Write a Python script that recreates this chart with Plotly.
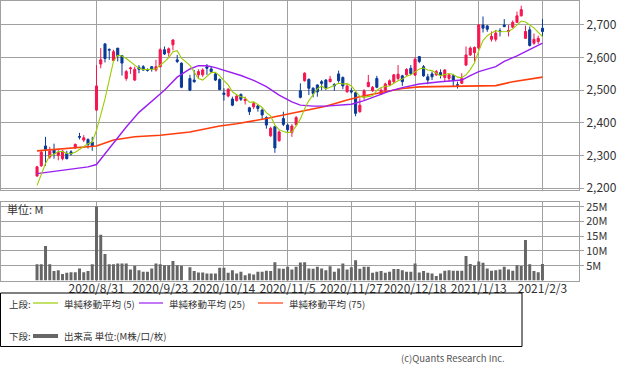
import plotly.graph_objects as go
import pandas as pd

FONT = "Noto Sans CJK JP"
W, H = 633, 372

# ---- trading calendar (TSE), 2020/10/1 had no trading (system outage) ----
holidays = ["2020-09-21", "2020-09-22", "2020-11-03", "2020-11-23",
            "2020-12-31", "2021-01-01", "2021-01-11"]
days = pd.bdate_range("2020-08-11", "2021-02-03", freq="C", holidays=holidays)
dates = [f"{d.year}/{d.month}/{d.day}" for d in days]

tick_labels = ["2020/8/31", "2020/9/23", "2020/10/14", "2020/11/5",
               "2020/11/27", "2020/12/18", "2021/1/13", "2021/2/3"]
price_ticks = [2200, 2300, 2400, 2500, 2600, 2700]
vol_ticks = [5, 10, 15, 20, 25]

opens = [2237, 2268, 2329, 2295, 2317, 2300, 2290, 2306, 2311, 2323,
         2358, 2347, 2349, 2341, 2439, 2580, 2642, 2625, 2591, 2629,
         2606, 2536, 2566, 2531, 2570, 2572, 2563, 2572, 2562, 2572,
         2624, 2615, 2639, 2593, 2583, None, 2536, 2531, 2547, 2547,
         2572, 2565, 2550, 2533, 2491, 2482, 2473, 2468, 2487, 2468,
         2446, 2449, 2452, 2439, 2416, 2360, 2388, 2345, 2413, 2393,
         2370, 2395, 2498, 2529, 2533, 2506, 2516, 2526, 2531, 2526,
         2518, 2550, 2539, 2495, 2498, 2492, 2434, 2482, 2511, 2498,
         2536, 2488, 2500, 2516, 2526, 2536, 2544, 2547, 2567, 2546,
         2603, 2572, 2541, 2550, 2547, 2554, 2539, 2536, 2544, 2517,
         2521, 2577, 2608, 2615, 2629, 2700, 2697, 2656, 2656, 2682,
         2700, 2680, 2693, 2708, 2728, 2659, 2685, 2644, 2649, 2690]
highs = [2268, 2314, 2357, 2326, 2336, 2316, 2316, 2314, 2316, 2336,
         2369, 2362, 2352, 2357, 2577, 2629, 2642, 2628, 2624, 2629,
         2608, 2562, 2572, 2572, 2577, 2577, 2567, 2574, 2593, 2629,
         2634, 2631, 2656, 2608, 2585, None, 2547, 2562, 2564, 2567,
         2580, 2572, 2554, 2536, 2506, 2506, 2480, 2487, 2490, 2480,
         2449, 2465, 2454, 2444, 2420, 2388, 2390, 2377, 2434, 2398,
         2396, 2421, 2521, 2555, 2536, 2509, 2518, 2531, 2534, 2544,
         2521, 2560, 2542, 2518, 2506, 2495, 2475, 2503, 2547, 2513,
         2544, 2506, 2523, 2533, 2550, 2577, 2547, 2567, 2577, 2601,
         2605, 2577, 2550, 2557, 2562, 2564, 2564, 2550, 2550, 2526,
         2552, 2634, 2634, 2634, 2703, 2726, 2700, 2680, 2685, 2690,
         2718, 2700, 2714, 2741, 2759, 2698, 2695, 2674, 2667, 2718]
lows = [2234, 2265, 2268, 2290, 2290, 2285, 2285, 2288, 2300, 2321,
        2349, 2341, 2321, 2314, 2436, 2567, 2585, 2593, 2588, 2588,
        2545, 2529, 2550, 2528, 2552, 2559, 2557, 2557, 2557, 2570,
        2608, 2603, 2622, 2583, 2506, None, 2497, 2523, 2536, 2541,
        2547, 2552, 2528, 2500, 2468, 2478, 2451, 2465, 2467, 2456,
        2424, 2442, 2434, 2410, 2382, 2357, 2308, 2342, 2390, 2372,
        2357, 2390, 2475, 2526, 2485, 2478, 2480, 2500, 2500, 2524,
        2498, 2523, 2503, 2492, 2490, 2420, 2431, 2470, 2509, 2495,
        2506, 2485, 2495, 2513, 2521, 2531, 2513, 2544, 2546, 2544,
        2583, 2541, 2518, 2531, 2544, 2536, 2526, 2526, 2510, 2505,
        2519, 2574, 2605, 2587, 2626, 2677, 2679, 2649, 2649, 2665,
        2693, 2665, 2690, 2706, 2726, 2657, 2634, 2639, 2642, 2665]
closes = [2265, 2310, 2319, 2313, 2307, 2309, 2313, 2290, 2304, 2334,
          2356, 2354, 2333, 2329, 2513, 2593, 2597, 2623, 2618, 2606,
          2583, 2557, 2568, 2564, 2564, 2562, 2561, 2565, 2572, 2624,
          2611, 2627, 2654, 2588, 2509, None, 2500, 2526, 2557, 2562,
          2567, 2557, 2531, 2502, 2487, 2503, 2454, 2482, 2472, 2472,
          2434, 2459, 2444, 2424, 2393, 2383, 2323, 2372, 2395, 2379,
          2390, 2416, 2478, 2552, 2506, 2490, 2495, 2521, 2506, 2534,
          2513, 2529, 2513, 2513, 2495, 2429, 2454, 2498, 2524, 2509,
          2509, 2500, 2519, 2529, 2547, 2549, 2526, 2564, 2551, 2595,
          2588, 2544, 2531, 2541, 2557, 2547, 2562, 2547, 2529, 2515,
          2536, 2608, 2629, 2631, 2700, 2690, 2687, 2665, 2675, 2680,
          2695, 2683, 2708, 2728, 2747, 2680, 2637, 2656, 2659, 2680]
volume_m = [5.5, 5.5, 11.7, 5.5, 3.2, 3.5, 2.2, 2.6, 2.8, 2.8,
            4.1, 2.8, 3.2, 5.5, 25.1, 15.5, 9.0, 5.5, 5.5, 5.8,
            5.8, 5.8, 3.7, 5.0, 3.5, 3.0, 3.0, 4.1, 5.8, 5.5,
            5.2, 5.2, 6.6, 5.2, 5.0, None, 4.5, 3.2, 2.7, 2.7,
            2.4, 2.4, 2.4, 4.3, 4.3, 2.6, 3.5, 2.4, 3.0, 1.8,
            2.4, 2.0, 3.0, 3.0, 3.3, 3.2, 6.2, 4.1, 4.0, 4.7,
            3.7, 4.7, 6.1, 6.2, 4.1, 4.0, 4.7, 4.1, 3.5, 4.8,
            3.0, 4.1, 5.8, 3.7, 4.5, 6.9, 4.0, 4.7, 4.7, 2.6,
            3.0, 3.2, 2.6, 3.0, 3.9, 3.9, 3.5, 3.0, 3.0, 5.8,
            2.7, 3.2, 2.6, 2.4, 1.5, 2.4, 3.3, 3.5, 3.3, 3.3,
            3.3, 8.3, 5.6, 5.1, 6.4, 6.0, 4.1, 3.3, 3.5, 3.7,
            4.7, 3.7, 3.3, 5.2, 4.9, 13.7, 5.5, 3.2, 2.8, 5.6]
ma5 = [2208, 2239, 2275, 2300, 2303, 2312, 2312, 2306, 2305, 2310,
       2319, 2328, 2336, 2341, 2377, 2424, 2473, 2531, 2589, 2607,
       2605, 2597, 2586, 2576, 2567, 2563, 2564, 2563, 2565, 2577,
       2587, 2600, 2618, 2621, 2598, None, 2576, 2555, 2536, 2531,
       2542, 2554, 2555, 2544, 2529, 2516, 2495, 2486, 2480, 2477,
       2463, 2464, 2456, 2447, 2431, 2421, 2393, 2379, 2373, 2370,
       2372, 2390, 2412, 2443, 2468, 2488, 2504, 2513, 2504, 2509,
       2514, 2521, 2519, 2520, 2513, 2496, 2481, 2478, 2480, 2483,
       2499, 2508, 2512, 2513, 2521, 2529, 2534, 2543, 2547, 2557,
       2565, 2568, 2562, 2560, 2552, 2544, 2548, 2551, 2548, 2540,
       2538, 2547, 2563, 2584, 2621, 2652, 2667, 2675, 2683, 2679,
       2680, 2680, 2688, 2699, 2712, 2709, 2700, 2691, 2677, 2664]

ma25_dates = ["2020/8/11", "2020/8/20", "2020/8/27", "2020/8/31", "2020/9/2",
              "2020/9/4", "2020/9/9", "2020/9/14", "2020/9/17", "2020/9/24",
              "2020/9/29", "2020/10/2", "2020/10/6", "2020/10/8", "2020/10/12",
              "2020/10/15", "2020/10/20", "2020/10/23", "2020/10/28", "2020/11/2",
              "2020/11/6", "2020/11/10", "2020/11/13", "2020/11/18", "2020/11/24",
              "2020/11/27", "2020/12/2", "2020/12/7", "2020/12/10", "2020/12/15",
              "2020/12/21", "2020/12/28", "2021/1/6", "2021/1/8", "2021/1/13",
              "2021/1/19", "2021/1/21", "2021/1/26", "2021/1/29", "2021/2/3"]
ma25 = [2244, 2255, 2265, 2272, 2305, 2340, 2387, 2432, 2465, 2500,
        2540, 2565, 2575, 2575, 2569, 2558, 2545, 2530, 2511, 2485,
        2464, 2454, 2451, 2451, 2454, 2457, 2468, 2483, 2497, 2508,
        2519, 2526, 2531, 2545, 2557, 2572, 2588, 2605, 2625, 2644]

ma75_dates = ["2020/8/11", "2020/8/31", "2020/9/4", "2020/9/11", "2020/9/23",
              "2020/10/2", "2020/10/13", "2020/10/19", "2020/10/28", "2020/11/5",
              "2020/11/10", "2020/11/18", "2020/11/26", "2020/12/1", "2020/12/9",
              "2020/12/15", "2020/12/21", "2021/1/4", "2021/1/14", "2021/1/19",
              "2021/1/25", "2021/1/28", "2021/2/3"]
ma75 = [2314, 2329, 2347, 2357, 2362, 2372, 2390, 2397, 2413, 2427,
        2434, 2451, 2470, 2480, 2495, 2505, 2510, 2511, 2513, 2514,
        2526, 2533, 2540]

# traded days only for candles / bars
cd = [(d, o, h, l, c, v) for d, o, h, l, c, v in
      zip(dates, opens, highs, lows, closes, volume_m) if o is not None]
c_dates = [r[0] for r in cd]

RED = "#F5154F"
BLUE = "#0A3A96"
GRID = "#a0a0a0"
TXT = "#333333"
C5, C25, C75 = "#9ACD00", "#9B1FF2", "#FF3D0D"

fig = go.Figure()
fig.add_trace(go.Candlestick(
    x=c_dates, open=[r[1] for r in cd], high=[r[2] for r in cd],
    low=[r[3] for r in cd], close=[r[4] for r in cd],
    increasing=dict(line=dict(color=RED, width=1), fillcolor=RED),
    decreasing=dict(line=dict(color=BLUE, width=1), fillcolor=BLUE),
    whiskerwidth=0, xaxis="x", yaxis="y", showlegend=False, hoverinfo="skip"))
fig.add_trace(go.Scatter(x=ma75_dates, y=ma75, mode="lines",
                         line=dict(color=C75, width=1.6),
                         xaxis="x", yaxis="y", showlegend=False))
fig.add_trace(go.Scatter(x=ma25_dates, y=ma25, mode="lines",
                         line=dict(color=C25, width=1.4),
                         xaxis="x", yaxis="y", showlegend=False))
fig.add_trace(go.Scatter(x=dates, y=ma5, mode="lines", connectgaps=True,
                         line=dict(color=C5, width=1.1),
                         xaxis="x", yaxis="y", showlegend=False))
fig.add_trace(go.Bar(x=c_dates, y=[r[5] for r in cd],
                     marker=dict(color="#666666", line_width=0),
                     xaxis="x2", yaxis="y2", showlegend=False))

xr = [-8.6, 127.6]
px = lambda v: v / W
py = lambda v: 1 - v / H

common_x = dict(type="category", categoryorder="array", categoryarray=dates,
                range=xr, showgrid=True, gridcolor=GRID, gridwidth=1,
                tickmode="array", tickvals=tick_labels, showline=True,
                linecolor=GRID, mirror=True, zeroline=False, automargin=False,
                tickangle=0, rangeslider=dict(visible=False), fixedrange=True)
common_y = dict(side="right", ticks="outside", ticklen=4, tickcolor=GRID,
                showgrid=True, gridcolor=GRID, showline=True, linecolor=GRID,
                mirror=True, zeroline=False, automargin=False, fixedrange=True)

fig.update_layout(
    width=W, height=H, margin=dict(l=0, r=0, t=0, b=0, autoexpand=False),
    paper_bgcolor="white", plot_bgcolor="white",
    font=dict(family=FONT, size=12, color=TXT),
    bargap=0.3, showlegend=False, hovermode=False,
    xaxis=dict(domain=[0.0008, px(579)], anchor="y", showticklabels=False,
               ticks="", **common_x),
    yaxis=dict(domain=[py(190.3), py(0.5)], range=[2193, 2775],
               tickvals=price_ticks, ticktext=[f"{v:,}" for v in price_ticks],
               tickfont=dict(size=12, color=TXT), **common_y),
    xaxis2=dict(domain=[0.0008, px(579)], anchor="y2", showticklabels=True,
                ticktext=tick_labels, ticks="", tickfont=dict(size=12, color=TXT),
                ticklabelstandoff=-3, **common_x),
    yaxis2=dict(domain=[py(280.5), py(201.7)], range=[0, 26.7],
                tickvals=vol_ticks, ticktext=[f"{v}M" for v in vol_ticks],
                tickfont=dict(size=11, color=TXT), **common_y),
)

shapes = [dict(type="rect", xref="paper", yref="paper", x0=px(0.5), x1=px(522),
               y0=py(346.5), y1=py(293), line=dict(color="#000000", width=1))]
for x0, x1, yy, col, lw in [(33, 58, 303, C5, 1.2), (139, 163, 303, C25, 1.2),
                            (258, 283, 303, C75, 1.2), (33, 58, 336, "#666666", 4)]:
    shapes.append(dict(type="line", xref="paper", yref="paper", x0=px(x0), x1=px(x1),
                       y0=py(yy), y1=py(yy), line=dict(color=col, width=lw)))
fig.update_layout(shapes=shapes)

annots = [
    ("単位: M", 5, 209, 11, "left", TXT),
    ("上段:", 7, 304, 9.5, "left", TXT),
    ("単純移動平均 (5)", 62, 304, 9.5, "left", TXT),
    ("単純移動平均 (25)", 167, 304, 9.5, "left", TXT),
    ("単純移動平均 (75)", 287, 304, 9.5, "left", TXT),
    ("下段:", 7, 336, 9.5, "left", TXT),
    ("出来高 単位:(M株/口/枚)", 62, 336, 9.5, "left", TXT),
    ("(c)Quants Research Inc.", 507, 358, 9.5, "right", "#555555"),
]
for text, x, y, size, anchor, col in annots:
    fig.add_annotation(text=text, xref="paper", yref="paper", x=px(x), y=py(y),
                       xanchor=anchor, yanchor="middle", showarrow=False,
                       font=dict(size=size, color=col, family=FONT))

fig.write_html("out.html", config={"displayModeBar": False, "staticPlot": True},
               post_script="document.body.style.margin='0';document.body.style.padding='0';")
